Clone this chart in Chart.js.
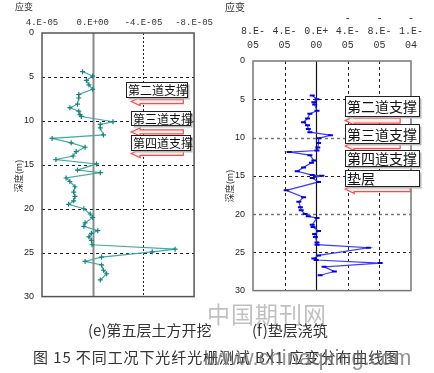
<!DOCTYPE html>
<html>
<head>
<meta charset="utf-8">
<script src="https://cdn.jsdelivr.net/npm/chart.js@4.4.0/dist/chart.umd.min.js"></script>
<style>
  body { margin: 0; background: #fff; }
  #wrap { position: relative; width: 434px; height: 373px; overflow: hidden; background: #fff; font-family: "Noto Sans CJK SC", sans-serif; }
  #wrap canvas { position: absolute; }
  .t { position: absolute; white-space: nowrap; color: #333; line-height: 1; }
  .rot { transform: translate(-50%, -50%) rotate(-90deg); }
</style>
</head>
<body>
<div id="wrap">
  <canvas id="chartE" width="217" height="310" style="left:0;top:0"></canvas>
  <canvas id="chartF" width="214" height="304" style="left:220px;top:0"></canvas>

  <div class="t" style="left:15px;top:2px;font-size:9px">应变</div>
  <div class="t" style="left:225px;top:2px;font-size:10px">应变</div>
  <div class="t rot" style="left:18px;top:176px;font-size:9px">深度(m)</div>
  <div class="t rot" style="left:229px;top:186px;font-size:9px">深度(m)</div>

  <div class="t" style="left:207px;top:302px;font-size:23px;color:rgba(140,140,140,0.55);letter-spacing:1px">中国期刊网</div>
  <div class="t" style="left:88px;top:322px;font-size:15px">(e)第五层土方开挖</div>
  <div class="t" style="left:252px;top:322px;font-size:15px">(f)垫层浇筑</div>
  <div class="t" style="left:33px;top:349px;font-size:15px;letter-spacing:0.9px">图 15 不同工况下光纤光栅测试 BX1 应变分布曲线图</div>
  <div class="t" style="left:206px;top:347px;font-size:22px;font-family:'Liberation Sans';color:rgba(110,110,110,0.75)">www.chinaqking.com</div>
</div>

<script>
// strain in units of 1E-05, depth in m
// (e) 第五层土方开挖
const depthE = [4.4, 4.9, 5.4, 5.9, 6.4, 7.0, 7.4, 8.1, 8.5, 8.9,
                9.3, 9.5, 10.1, 10.4, 10.8, 11.6, 12.0, 12.5, 13.0, 13.5,
                14.0, 14.4, 14.9, 15.6, 15.9, 16.5, 16.9, 17.5, 18.1, 18.6,
                19.1, 19.5, 20.0, 20.6, 21.0, 21.6, 22.0, 22.5, 22.8, 23.2,
                23.6, 24.1, 24.6, 24.9, 25.5, 26.0, 26.4, 27.0, 27.4, 28.1];
const strainE = [0.8, 0.0, 0.5, 0.3, 0.0, 1.1, 1.1, 1.2, 1.8, 1.1,
                 1.0, 0.9, -1.6, -0.6, -0.6, -0.85, 3.2, 1.7, 0.6, 1.3,
                 1.55, 2.9, -0.3, 1.2, -0.6, 2.1, 1.8, 1.4, 1.5, 1.4,
                 1.5, 1.9, 0.7, 0.2, 0.0, 0.6, 0.7, -0.4, 0.1, 0.3,
                 0.1, 0.05, -6.5, -4.7, -0.7, 0.6, -0.7, -0.85, -1.1, -0.6];

// (f) 垫层浇筑
const depthF = [4.5, 5.0, 5.4, 5.7, 6.5, 6.9, 7.5, 8.0, 8.4, 8.9,
                9.3, 9.7, 10.1, 10.7, 11.3, 11.7, 11.9, 12.3, 13.0, 13.3,
                13.9, 14.4, 14.9, 15.0, 15.3, 15.8, 16.9, 17.8, 18.4, 19.1,
                19.5, 20.0, 20.3, 20.5, 21.4, 21.7, 22.2, 22.6, 23.0, 23.7,
                24.0, 24.4, 25.4, 25.8, 26.0, 26.4, 26.9, 27.5, 28.0];
const strainF = [0.5, -0.1, 0.3, 0.2, -0.1, 0.8, 1.1, 1.6, 1.1, 1.0,
                 0.8, -1.8, -0.3, -0.3, -0.2, -0.1, 3.4, 0.8, 0.3, 0.6,
                 1.6, 2.4, 0.5, -0.7, 0.5, -0.3, 3.8, 1.6, 2.2, 2.0,
                 1.9, 1.4, 1.0, -0.1, 0.5, 0.4, -0.3, 0.2, 0.1, -0.1,
                 -0.1, -6.6, -0.3, 0.3, 0.0, -8.1, -1.0, -2.3, -0.5];

// axis ticks
const depthTicks = [0, 5, 10, 15, 20, 25, 30];
const tickValsE = [4, 0, -4, -8];
const tickLabelsE = ['4.E-05', '0.E+00', '-4.E-05', '-8.E-05'];
const tickValsF = [8, 4, 0, -4, -8, -12];
const tickLabelsF = [['', '8.E-', '05'], ['', '4.E-', '05'], ['', '0.E+', '00'],
                     ['-', '4.E-', '05'], ['-', '8.E-', '05'], ['-', '1.E-', '04']];

// annotation labels
const supportsE = ['第二道支撑', '第三道支撑', '第四道支撑'];
const supportsF = ['第二道支撑', '第三道支撑', '第四道支撑', '垫层'];

function strokeLine(ctx, x1, y1, x2, y2, s) {
    ctx.beginPath();
    ctx.strokeStyle = s.color;
    ctx.lineWidth = s.width;
    ctx.setLineDash(s.dash || []);
    ctx.moveTo(x1, y1);
    ctx.lineTo(x2, y2);
    ctx.stroke();
}

function drawArrow(ctx, xTip, xEnd, y, shaft, head) {
    const hl = 9;
    ctx.beginPath();
    ctx.moveTo(xTip, y);
    ctx.lineTo(xTip + hl, y - head / 2);
    ctx.lineTo(xTip + hl, y - shaft / 2);
    ctx.lineTo(xEnd, y - shaft / 2);
    ctx.lineTo(xEnd, y + shaft / 2);
    ctx.lineTo(xTip + hl, y + shaft / 2);
    ctx.lineTo(xTip + hl, y + head / 2);
    ctx.closePath();
    ctx.setLineDash([]);
    ctx.fillStyle = '#ffecec';
    ctx.fill();
    ctx.strokeStyle = '#ff4a4a';
    ctx.lineWidth = 1.2;
    ctx.stroke();
}

// grid lines, frame, label boxes and arrows
function makeDecor(cfg) {
    return {
        id: 'decor',
        beforeDatasetsDraw(chart) {
            const { ctx, chartArea: a, scales: { x, y } } = chart;
            ctx.save();
            cfg.vlines.forEach(l => {
                const px = Math.round(x.getPixelForValue(l.v)) + 0.5;
                strokeLine(ctx, px, a.top, px, a.bottom, l);
            });
            cfg.hlines.forEach(l => {
                const py = Math.round(y.getPixelForValue(l.v)) + 0.5;
                strokeLine(ctx, a.left, py, a.right, py, l);
            });
            ctx.restore();
        },
        afterDatasetsDraw(chart) {
            const { ctx, chartArea: a, scales: { x, y } } = chart;
            ctx.save();
            ctx.setLineDash([]);
            ctx.strokeStyle = cfg.frame.color;
            ctx.lineWidth = cfg.frame.width;
            ctx.strokeRect(a.left, a.top, a.right - a.left, a.bottom - a.top);

            cfg.arrows.forEach(ar => {
                drawArrow(ctx, x.getPixelForValue(ar.x1), x.getPixelForValue(ar.x2),
                          y.getPixelForValue(ar.y), cfg.shaft, cfg.head);
            });
            cfg.boxes.forEach(b => {
                const x1 = Math.round(x.getPixelForValue(b.x1)) + 0.5;
                const x2 = Math.round(x.getPixelForValue(b.x2)) + 0.5;
                const y1 = Math.round(y.getPixelForValue(b.y1)) + 0.5;
                const y2 = Math.round(y.getPixelForValue(b.y2)) + 0.5;
                ctx.fillStyle = '#b8b8b8';
                ctx.fillRect(x1 + 2, y1 + 2, x2 - x1, y2 - y1);
                ctx.fillStyle = '#fff';
                ctx.fillRect(x1, y1, x2 - x1, y2 - y1);
                ctx.strokeStyle = '#222';
                ctx.lineWidth = 1;
                ctx.strokeRect(x1, y1, x2 - x1, y2 - y1);
                ctx.fillStyle = '#111';
                ctx.font = cfg.fontSize + 'px "Noto Sans CJK SC"';
                ctx.textBaseline = 'middle';
                ctx.textAlign = 'left';
                ctx.fillText(b.text, x1 + 1.5, (y1 + y2) / 2 + 0.5);
            });
            ctx.restore();
        }
    };
}

function depthAxis(width) {
    return {
        min: 0, max: 30, reverse: true,
        afterBuildTicks: s => { s.ticks = depthTicks.map(v => ({ value: v })); },
        afterFit: s => { s.width = width; },
        grid: { display: false, drawTicks: false },
        border: { display: false },
        ticks: { color: '#222', padding: 8, font: { family: 'Liberation Sans', size: 9 } }
    };
}

function strainAxis(min, max, vals, labels, height, pad, fontSize) {
    return {
        position: 'top', min: min, max: max, reverse: true,
        afterBuildTicks: s => { s.ticks = vals.map(v => ({ value: v })); },
        afterFit: s => { s.height = height; },
        grid: { display: false, drawTicks: false },
        border: { display: false },
        ticks: {
            color: '#333', padding: pad, maxRotation: 0, autoSkip: false,
            font: { family: 'Liberation Mono', size: fontSize, lineHeight: 1.35 },
            callback: v => labels[vals.indexOf(v)]
        }
    };
}

const dash = [3, 3];

new Chart(document.getElementById('chartE'), {
    type: 'scatter',
    data: {
        datasets: [{
            data: depthE.map((d, i) => ({ x: strainE[i], y: d })),
            showLine: true,
            borderColor: '#46a9a9',
            borderWidth: 1.2,
            pointStyle: 'cross',
            pointRadius: 2.5,
            pointBorderColor: '#138383',
            pointBorderWidth: 1.2
        }]
    },
    options: {
        responsive: false,
        animation: false,
        layout: { padding: { left: 0, top: 0, right: 20, bottom: 8 } },
        plugins: { legend: { display: false }, tooltip: { enabled: false } },
        scales: {
            x: strainAxis(-8, 4, tickValsE, tickLabelsE, 33, 4, 9),
            y: depthAxis(42)
        }
    },
    plugins: [makeDecor({
        frame: { color: '#555', width: 1.5 },
        vlines: [
            { v: 0, color: '#8a8a8a', width: 2 },
            { v: -4, color: '#222', width: 1, dash: [2, 2] }
        ],
        hlines: [5, 10, 15, 20, 25].map(v => ({ v: v, color: '#222', width: 1, dash: dash })),
        fontSize: 12, shaft: 4, head: 8,
        boxes: [
            { text: supportsE[0], x1: -2.64, x2: -7.46, y1: 5.57, y2: 7.25 },
            { text: supportsE[1], x1: -3.03, x2: -7.69, y1: 8.92, y2: 10.48 },
            { text: supportsE[2], x1: -3.03, x2: -7.69, y1: 11.59, y2: 13.27 }
        ],
        arrows: [
            { x1: -3.03, x2: -7.15, y: 7.8 },
            { x1: -3.03, x2: -7.15, y: 11.26 },
            { x1: -3.03, x2: -7.15, y: 13.71 }
        ]
    })]
});

new Chart(document.getElementById('chartF'), {
    type: 'scatter',
    data: {
        datasets: [{
            data: depthF.map((d, i) => ({ x: strainF[i], y: d })),
            showLine: true,
            borderColor: '#3a3aff',
            borderWidth: 1.2,
            pointStyle: 'line',
            pointRadius: 2.5,
            pointBorderColor: '#0000ee',
            pointBorderWidth: 2
        }]
    },
    options: {
        responsive: false,
        animation: false,
        layout: { padding: { left: 0, top: 0, right: 23, bottom: 8 } },
        plugins: { legend: { display: false }, tooltip: { enabled: false } },
        scales: {
            x: strainAxis(-12, 8, tickValsF, tickLabelsF, 61, 9, 10),
            y: depthAxis(33)
        }
    },
    plugins: [makeDecor({
        frame: { color: '#777', width: 1.5 },
        vlines: [
            { v: 4, color: '#222', width: 1, dash: dash },
            { v: 0, color: '#111', width: 1.2 },
            { v: -4, color: '#222', width: 1, dash: dash },
            { v: -8, color: '#222', width: 1, dash: dash }
        ],
        hlines: [
            { v: 5, color: '#222', width: 1, dash: dash },
            { v: 10, color: '#777', width: 1.5, dash: dash },
            { v: 15, color: '#222', width: 1, dash: dash },
            { v: 20, color: '#777', width: 1.5, dash: dash },
            { v: 25, color: '#222', width: 1, dash: dash }
        ],
        fontSize: 14, shaft: 5, head: 9,
        boxes: [
            { text: supportsF[0], x1: -3.67, x2: -13.04, y1: 4.6, y2: 7.15 },
            { text: supportsF[1], x1: -3.67, x2: -13.04, y1: 8.17, y2: 10.7 },
            { text: supportsF[2], x1: -3.67, x2: -13.04, y1: 11.62, y2: 13.67 },
            { text: supportsF[3], x1: -3.67, x2: -13.04, y1: 14.18, y2: 16.35 }
        ],
        arrows: [
            { x1: -3.67, x2: -10.63, y: 7.79 },
            { x1: -3.67, x2: -10.63, y: 11.11 },
            { x1: -3.67, x2: -11.9, y: 16.73 }
        ]
    })]
});
</script>
</body>
</html>
